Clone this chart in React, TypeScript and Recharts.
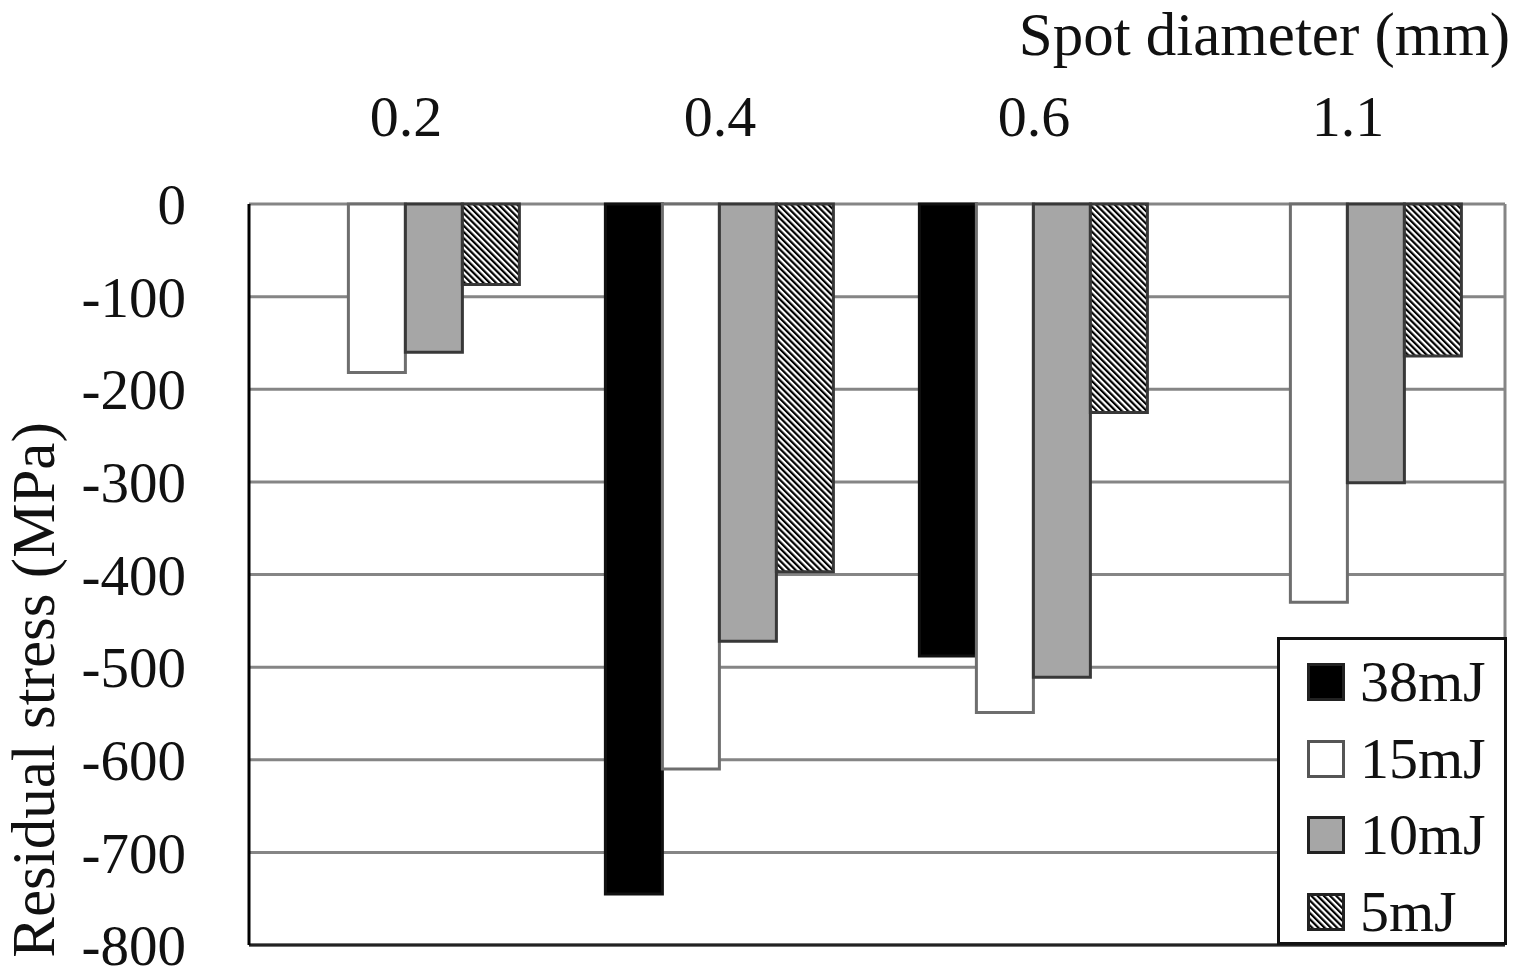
import React from 'react';
import { BarChart, Bar, XAxis, YAxis, CartesianGrid, ReferenceLine, Legend, Label } from 'recharts';

const categories = ['0.2', '0.4', '0.6', '1.1'];
const e38 = [null, -745, -488, null];
const e15 = [-182, -610, -549, -430];
const e10 = [-160, -472, -511, -301];
const e5 = [-87, -397, -225, -164];
const yTicks = [0, -100, -200, -300, -400, -500, -600, -700, -800];

const series = [
  { key: 'e38', name: '38mJ', fill: '#000000', stroke: '#111111' },
  { key: 'e15', name: '15mJ', fill: '#ffffff', stroke: '#6e6e6e' },
  { key: 'e10', name: '10mJ', fill: '#a6a6a6', stroke: '#383838' },
  { key: 'e5', name: '5mJ', fill: 'url(#hatch5)', stroke: '#383838' },
];

const data = categories.map((c, i) => ({ cat: c, e38: e38[i], e15: e15[i], e10: e10[i], e5: e5[i] }));

const FONT = '"Liberation Serif", "Times New Roman", serif';

function Swatch({ s }: { s: any }) {
  return (
    <svg width={38} height={38} style={{ display: 'block' }}>
      <defs>
        <pattern id={'lg' + s.key} patternUnits="userSpaceOnUse" width={4.4} height={4.4} patternTransform="rotate(-45)">
          <rect x={0} y={0} width={4.4} height={4.4} fill="#ffffff" />
          <rect x={0} y={0} width={2.2} height={4.4} fill="#000000" />
        </pattern>
      </defs>
      <rect x={1.5} y={1.5} width={35} height={35} fill={s.key === 'e5' ? 'url(#lg' + s.key + ')' : s.fill} stroke={s.key === 'e15' ? '#555' : '#222'} strokeWidth={3} />
    </svg>
  );
}

function LegendBox() {
  return (
    <div style={{ width: 230, height: 308, boxSizing: 'border-box', border: '3px solid #111', background: '#fff', paddingTop: 4, paddingLeft: 27 }}>
      {series.map((s) => (
        <div key={s.key} style={{ display: 'flex', alignItems: 'center', height: 76.5 }}>
          <Swatch s={s} />
          <span style={{ fontFamily: FONT, fontSize: 58, marginLeft: 15, color: '#111', lineHeight: '60px' }}>{s.name}</span>
        </div>
      ))}
    </div>
  );
}

export default function App() {
  return (
    <div style={{ position: 'absolute', left: 0, top: 0, width: 1529, height: 979, background: '#fff' }}>
      <BarChart
        width={1529}
        height={979}
        data={data}
        margin={{ top: 0, right: 24, bottom: 34, left: 0 }}
        barCategoryGap="13.5%"
        barGap={0}
        style={{ fontFamily: FONT }}
      >
        <defs>
          <pattern id="hatch5" patternUnits="userSpaceOnUse" width={4.4} height={4.4} patternTransform="rotate(-45)">
            <rect x={0} y={0} width={4.4} height={4.4} fill="#ffffff" />
            <rect x={0} y={0} width={2.2} height={4.4} fill="#000000" />
          </pattern>
        </defs>
        <CartesianGrid
          stroke="#858585"
          strokeWidth={3}
          horizontal={true}
          vertical={true}
          verticalCoordinatesGenerator={({ offset }: any) => [offset.left + offset.width]}
        />
        <XAxis
          dataKey="cat"
          orientation="top"
          height={204}
          axisLine={false}
          tickLine={false}
          tickSize={0}
          tickMargin={68}
          tick={{ fill: '#111', fontSize: 58, fontFamily: FONT }}
        >
          <Label
            content={() => (
              <text x={1510} y={55} textAnchor="end" fill="#111" fontSize={61} fontFamily={FONT}>
                Spot diameter (mm)
              </text>
            )}
          />
        </XAxis>
        <YAxis
          type="number"
          domain={[-800, 0]}
          ticks={yTicks}
          interval={0}
          width={249}
          axisLine={{ stroke: '#000', strokeWidth: 3 }}
          tickLine={false}
          tickSize={0}
          tickMargin={63}
          tick={{ fill: '#111', fontSize: 57, fontFamily: FONT }}
        >
          <Label
            content={() => (
              <text
                x={54}
                y={690}
                transform="rotate(-90 54 690)"
                textAnchor="middle"
                fill="#111"
                fontSize={61}
                fontFamily={FONT}
              >
                Residual stress (MPa)
              </text>
            )}
          />
        </YAxis>
        <ReferenceLine y={-800} stroke="#222" strokeWidth={3} />
        {series.map((s) => (
          <Bar
            key={s.key}
            dataKey={s.key}
            name={s.name}
            fill={s.fill}
            stroke={s.stroke}
            strokeWidth={3}
            isAnimationActive={false}
          />
        ))}
        <Legend
          layout="horizontal"
          verticalAlign="middle"
          align="center"
          wrapperStyle={{ left: 1277, top: 637, width: 230, height: 308 }}
          content={() => <LegendBox />}
        />
      </BarChart>
    </div>
  );
}
